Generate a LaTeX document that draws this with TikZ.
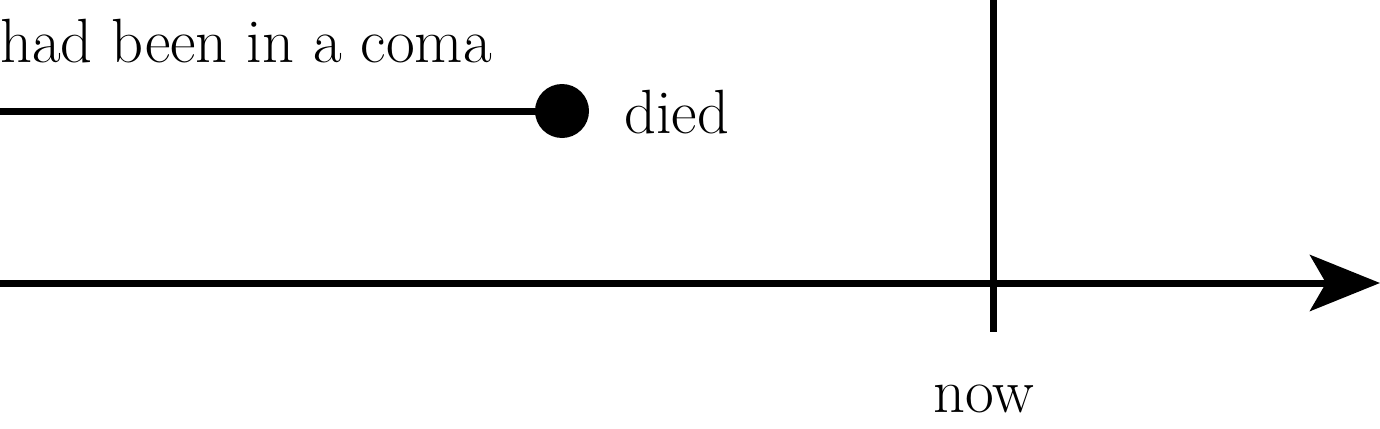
\documentclass[tikz,border=0pt]{standalone}
\usetikzlibrary{arrows.meta}
\begin{document}
\begin{tikzpicture}[x=1pt,y=-1pt,
  lbl/.style={anchor=base west,inner sep=0pt,font=\fontsize{62.5}{65}\selectfont},
  thick line/.style={line width=7pt},
  dotnode/.style={circle,fill=black,inner sep=0pt,minimum size=54pt}]
\useasboundingbox (0,0) rectangle (1380,428);
\coordinate (c1) at (0,111);
\node[dotnode] (dot) at (562,111) {};
\draw[thick line] (c1) -- (dot.center);
\coordinate (a0) at (0,283);
\coordinate (a1) at (1380,283);
\draw[thick line,-{Stealth[length=70pt,width=56pt,inset=16pt]}] (a0) -- (a1);
\coordinate (v0) at (993,0);
\coordinate (v1) at (993,332);
\draw[thick line] (v0) -- (v1);
\node[lbl] (coma) at (0,63) {had been in a coma};
\node[lbl] (died) at (624,133) {died};
\node[lbl] (now) at (933,412) {now};
\end{tikzpicture}
\end{document}
